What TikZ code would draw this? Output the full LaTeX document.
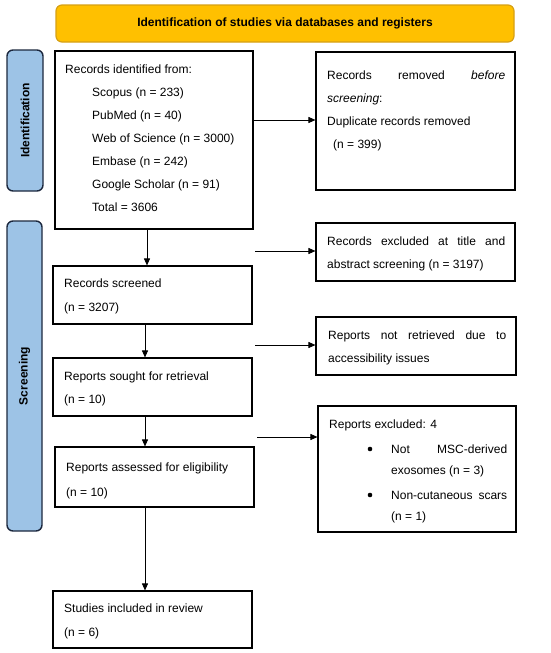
\documentclass[tikz,border=0pt]{standalone}
\usepackage{fontspec}
\setmainfont{Liberation Sans}
\usetikzlibrary{arrows.meta}
\definecolor{hdrfill}{RGB}{255,192,0}
\definecolor{hdrdraw}{RGB}{214,160,20}
\definecolor{barfill}{RGB}{157,195,230}
\definecolor{bardraw}{RGB}{28,40,62}
\tikzset{
  box/.style={draw=black, line width=1.1pt, inner sep=0pt, rectangle},
  txt/.style={inner sep=0pt, anchor=base west, font=\fontsize{12}{14}\selectfont},
  hdr/.style={draw=hdrdraw, fill=hdrfill, line width=1.2pt, rounded corners=6pt, inner sep=0pt, font=\fontsize{12}{14}\selectfont\bfseries},
  sidebar/.style={draw=bardraw, fill=barfill, line width=1.4pt, rounded corners=6pt, inner sep=0pt},
  sidetxt/.style={rotate=90, inner sep=0pt, font=\fontsize{12}{14}\selectfont\bfseries},
  bul/.style={circle, fill=black, inner sep=0pt, minimum size=4.6pt},
  arr/.style={line width=0.9pt, -{Triangle[length=7pt,width=6pt]}}
}
\newcommand{\jline}[2]{\hbox to #1{#2}}
\begin{document}
\begin{tikzpicture}[x=1pt,y=-1pt]
\useasboundingbox (0,0) rectangle (550,653);
% header and side bars
\node[hdr, minimum width=458pt, minimum height=37pt] (hdr) at (285,23.5) {Identification of studies via databases and registers};
\node[sidebar, minimum width=36pt, minimum height=141pt] (idbar) at (25,120.5) {};
\node[sidetxt] (idtxt) at (idbar.center) {Identification};
\node[sidebar, minimum width=35pt, minimum height=310pt] (scbar) at (24.5,376) {};
\node[sidetxt] (sctxt) at (scbar.center) {Screening};
% boxes
\node[box, minimum width=198pt, minimum height=178pt] (ident) at (154,140) {};
\node[box, minimum width=199pt, minimum height=138pt] (removed) at (415.5,121) {};
\node[box, minimum width=199pt, minimum height=58pt] (excl) at (415.5,252) {};
\node[box, minimum width=199pt, minimum height=58pt] (screened) at (152.5,295) {};
\node[box, minimum width=200pt, minimum height=58pt] (notret) at (416,346) {};
\node[box, minimum width=199pt, minimum height=58pt] (sought) at (152.5,387) {};
\node[box, minimum width=198pt, minimum height=126pt] (repexcl) at (417,469) {};
\node[box, minimum width=199pt, minimum height=60pt] (assessed) at (154.5,477) {};
\node[box, minimum width=199pt, minimum height=57pt] (studies) at (152.5,619.5) {};
% texts: records identified
\node[txt] (i0) at (65,73) {Records identified from:};
\node[txt] (i1) at (92,96) {Scopus (n = 233)};
\node[txt] (i2) at (92,119) {PubMed (n = 40)};
\node[txt] (i3) at (92,142) {Web of Science (n = 3000)};
\node[txt] (i4) at (92,165) {Embase (n = 242)};
\node[txt] (i5) at (92,188) {Google Scholar (n = 91)};
\node[txt] (i6) at (92,211) {Total = 3606};
% removed
\node[txt] (r0) at (327,79) {\jline{178pt}{Records\hfill removed\hfill \textit{before}}};
\node[txt] (r1) at (327,102) {\textit{screening}:};
\node[txt] (r2) at (327,125) {Duplicate records removed};
\node[txt] (r3) at (333,148) {(n = 399)};
% excluded
\node[txt] (e0) at (327,245) {\jline{178pt}{Records\hfill excluded\hfill at\hfill title\hfill and}};
\node[txt] (e1) at (327,268) {abstract screening (n = 3197)};
% screened
\node[txt] (s0) at (64,287) {Records screened};
\node[txt] (s1) at (64,311) {(n = 3207)};
% not retrieved
\node[txt] (n0) at (328,339) {\jline{178pt}{Reports\hfill not\hfill retrieved\hfill due\hfill to}};
\node[txt] (n1) at (328,362) {accessibility issues};
% sought
\node[txt] (g0) at (64,380) {Reports sought for retrieval};
\node[txt] (g1) at (64,403.5) {(n = 10)};
% reports excluded
\node[txt] (x0) at (329,428) {Reports excluded: 4};
\node[bul] (xb1) at (370,449) {};
\node[txt] (x1) at (391,453) {\jline{116pt}{Not\hfill MSC-derived}};
\node[txt] (x2) at (391,474) {exosomes (n = 3)};
\node[bul] (xb2) at (370,495) {};
\node[txt] (x3) at (391,499) {\jline{116pt}{Non-cutaneous\hfill scars}};
\node[txt] (x4) at (391,520) {(n = 1)};
% assessed
\node[txt] (a0) at (66,471) {Reports assessed for eligibility};
\node[txt] (a1) at (66,496) {(n = 10)};
% studies
\node[txt] (t0) at (64,612.5) {Studies included in review};
\node[txt] (t1) at (64,636.5) {(n = 6)};
% connector coordinates
\coordinate (v1) at (147,0);
\coordinate (v2) at (145,0);
\coordinate (h1) at (0,120);
\coordinate (h2) at (255,251);
\coordinate (h3) at (255,345);
\coordinate (h4) at (257,437);
% vertical arrows
\draw[arr] (ident.south -| v1) -- (screened.north -| v1);
\draw[arr] (screened.south -| v2) -- (sought.north -| v2);
\draw[arr] (sought.south -| v2) -- (assessed.north -| v2);
\draw[arr] (assessed.south -| v2) -- (studies.north -| v2);
% horizontal arrows
\draw[arr] (ident.east |- h1) -- (removed.west |- h1);
\draw[arr] (h2) -- (excl.west |- h2);
\draw[arr] (h3) -- (notret.west |- h3);
\draw[arr] (h4) -- (repexcl.west |- h4);
\end{tikzpicture}
\end{document}
